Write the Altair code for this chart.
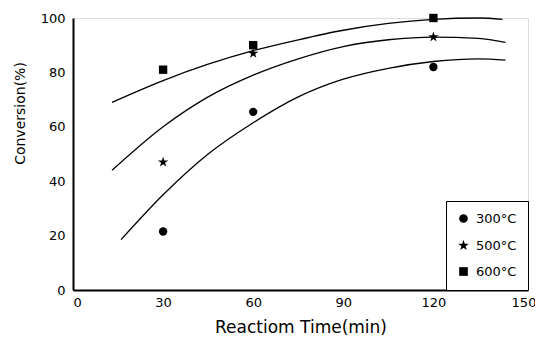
import altair as alt
import pandas as pd

# Measured points
series = ["300°C", "500°C", "600°C"]
times = [30, 60, 120]
conv_300 = [21.5, 65.5, 82]
conv_500 = [47, 87, 93]
conv_600 = [81, 90, 100]

# Fitted curves
curve_x_300 = [16, 30, 45, 60, 75, 90, 105, 120, 135, 144]
curve_y_300 = [18.5, 35, 50, 61.5, 71, 77.5, 81.5, 84, 85, 84.5]
curve_x_500 = [13, 30, 45, 60, 75, 90, 105, 120, 135, 144]
curve_y_500 = [44, 60, 71, 79, 85, 89.5, 92, 93, 92.5, 91]
curve_x_600 = [13, 30, 45, 60, 75, 90, 105, 120, 135, 143]
curve_y_600 = [69, 77, 83, 88, 92, 95.5, 98, 99.5, 100, 99.5]

pts = pd.DataFrame({
    "t": times * 3,
    "c": conv_300 + conv_500 + conv_600,
    "s": [series[0]] * 3 + [series[1]] * 3 + [series[2]] * 3,
})
curves = pd.DataFrame({
    "t": curve_x_300 + curve_x_500 + curve_x_600,
    "c": curve_y_300 + curve_y_500 + curve_y_600,
    "s": [series[0]] * len(curve_x_300) + [series[1]] * len(curve_x_500) + [series[2]] * len(curve_x_600),
})

FONT = "DejaVu Sans"
star = ("M0,-1.3L0.292,-0.402L1.236,-0.402L0.472,0.153L0.764,1.052L0,0.497"
        "L-0.764,1.052L-0.472,0.153L-1.236,-0.402L-0.292,-0.402Z")

xs = alt.Scale(domain=[0, 151.5], nice=False, zero=False)
ys = alt.Scale(domain=[0, 100], nice=False)

xax = alt.Axis(values=[0, 30, 60, 90, 120, 150], title="Reactiom Time(min)", grid=False, ticks=False,
               labelPadding=6, labelFont=FONT, labelFontSize=13, labelColor="black",
               titleFont=FONT, titleFontSize=17, titleFontWeight="normal", titleColor="black",
               titleY=37, titleBaseline="middle", domainColor="black", domainWidth=2)
yax = alt.Axis(values=[0, 20, 40, 60, 80, 100], title="Conversion(%)", grid=False, ticks=False,
               labelPadding=8, labelFont=FONT, labelFontSize=13, labelColor="black",
               titleFont=FONT, titleFontSize=14, titleFontWeight="normal", titleColor="black",
               titleX=-53, titleY=95, titleAngle=-90, titleBaseline="middle", titleAlign="center",
               domainColor="black", domainWidth=2)

lines = alt.Chart(curves).mark_line(color="black", strokeWidth=1.3, interpolate="monotone").encode(
    x=alt.X("t:Q", scale=xs, axis=xax),
    y=alt.Y("c:Q", scale=ys, axis=yax),
    detail="s:N",
)

points = alt.Chart(pts).mark_point(filled=True, color="black", opacity=1, size=70).encode(
    x=alt.X("t:Q", scale=xs),
    y=alt.Y("c:Q", scale=ys),
    shape=alt.Shape("s:N", scale=alt.Scale(domain=series, range=["circle", star, "square"]),
                    legend=alt.Legend(title=None, orient="bottom-right", offset=0,
                                      strokeColor="black", fillColor="white", padding=11,
                                      rowPadding=10, labelOffset=6, labelFont=FONT, labelFontSize=13,
                                      labelColor="black", symbolSize=75, symbolFillColor="black",
                                      symbolStrokeColor="black", symbolType="circle")),
)

chart = alt.layer(lines, points).properties(
    width=455, height=272,
    padding={"left": 65, "top": 10, "right": 7, "bottom": 49},
    autosize=alt.AutoSizeParams(type="none"),
).configure_view(stroke="black", strokeWidth=1.5).configure(background="white")

chart.save("out.html", embed_options={"renderer": "svg", "actions": False})
